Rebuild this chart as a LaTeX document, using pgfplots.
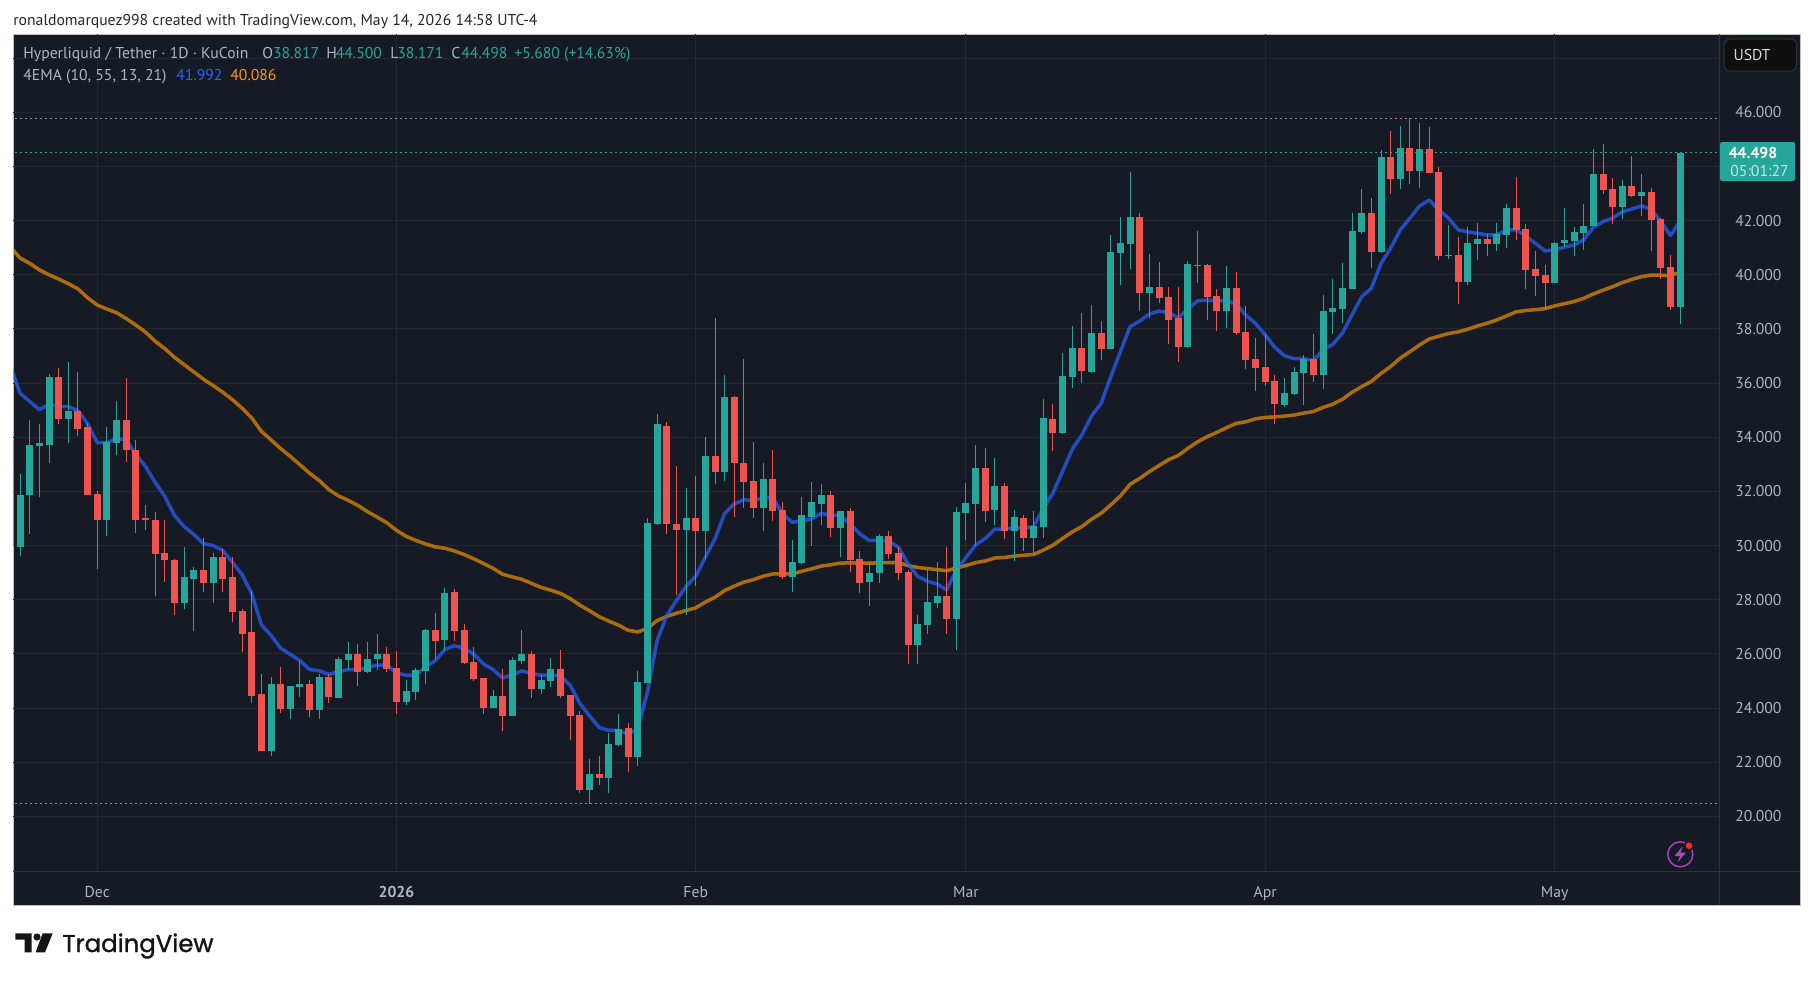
\documentclass[border=0pt]{standalone}
\usepackage{pgfplots}
\usepackage{pgfplotstable}
\usepackage{fontspec}
\pgfplotsset{compat=1.18}
\setmainfont{PT Sans}
\newfontfamily\logofont[FakeBold=1.2]{Poppins}
\definecolor{panelbg}{HTML}{161A25}
\definecolor{gridc}{HTML}{242832}
\definecolor{axisc}{HTML}{2F333E}
\definecolor{grn}{HTML}{26A69A}
\definecolor{rd}{HTML}{EF5350}
\definecolor{bl}{HTML}{2962FF}
\definecolor{org}{HTML}{FF9800}
\definecolor{lbl}{HTML}{B2B5BE}
\definecolor{purp}{HTML}{AB47BC}
\pgfplotstableread{
d o h l c
-8 29.96 32.66 29.63 31.88
-7 31.85 34.65 30.41 33.73
-6 33.69 34.50 31.81 33.77
-5 33.73 36.35 33.03 36.24
-3 34.69 36.76 33.80 34.95
1 30.96 34.39 30.37 33.84
2 33.80 35.35 33.36 34.65
9 27.86 29.96 27.64 28.82
10 28.78 29.22 26.86 29.11
12 28.60 29.74 27.86 29.56
18 22.43 25.13 22.21 24.87
20 23.98 24.83 23.58 24.83
21 24.79 25.72 24.39 24.87
23 23.94 25.24 23.61 25.16
25 24.36 25.88 24.36 25.80
26 25.77 26.43 25.40 25.99
28 25.32 26.43 25.29 25.80
29 25.80 26.73 25.40 25.99
32 24.22 25.03 24.10 24.62
33 24.58 25.47 24.29 25.40
34 25.36 26.91 24.88 26.87
36 26.50 28.42 26.10 28.24
41 23.99 24.66 23.99 24.44
43 23.70 25.88 23.70 25.77
44 25.73 26.87 25.62 25.99
46 24.70 25.25 24.51 25.03
47 24.99 25.84 24.77 25.43
51 20.97 22.11 20.45 21.56
53 21.41 23.07 20.86 22.66
54 22.63 23.77 22.59 23.22
56 22.18 25.36 21.85 24.95
57 24.92 31.00 24.92 30.85
58 30.78 34.87 30.74 34.47
61 30.59 32.14 27.42 31.00
63 30.55 33.99 29.52 33.29
65 32.70 36.31 32.40 35.50
69 31.37 33.03 30.52 32.44
72 28.82 30.22 28.30 29.41
73 29.37 31.81 29.30 31.11
74 31.07 32.33 30.00 31.59
75 31.55 32.29 30.74 31.85
77 30.66 31.26 29.56 31.26
80 28.67 29.41 27.75 29.00
81 28.97 30.44 28.63 30.37
85 26.34 27.45 25.64 27.12
86 27.08 29.08 26.75 27.90
87 27.86 29.41 27.71 28.12
89 27.28 31.42 26.14 31.24
90 31.20 32.31 30.20 31.57
91 31.53 33.71 29.98 32.86
93 31.31 33.23 30.76 32.20
95 30.54 31.31 29.43 31.05
97 30.28 31.27 29.72 30.72
98 30.68 35.41 30.28 34.71
100 34.15 37.11 34.12 36.26
101 36.22 38.10 35.82 37.29
103 36.41 38.88 36.37 37.85
105 37.26 41.46 37.26 40.84
106 40.80 42.13 39.62 41.17
107 41.13 43.79 40.21 42.13
109 39.32 40.76 38.40 39.54
113 37.33 40.51 37.29 40.39
117 38.66 40.32 38.03 39.51
123 35.19 36.19 35.12 35.64
124 35.60 36.60 35.56 36.41
125 36.38 37.04 35.19 36.89
127 36.30 39.26 35.78 38.66
128 38.63 39.85 37.81 38.78
129 38.74 40.44 38.22 39.51
130 39.48 42.28 39.48 41.62
131 41.58 43.17 41.51 42.28
133 40.84 44.61 40.80 44.35
135 43.54 45.50 43.17 44.68
137 43.83 45.61 43.21 44.65
140 40.70 41.84 40.58 40.73
142 39.73 41.77 39.62 41.18
143 41.14 41.91 40.55 41.32
145 41.14 41.91 40.88 41.51
146 41.47 42.62 40.99 42.47
151 39.70 41.21 39.70 41.18
152 41.18 42.47 41.03 41.29
153 41.25 41.77 40.70 41.58
154 41.54 42.62 40.92 41.80
155 41.80 44.65 41.80 43.72
158 42.50 43.50 42.06 43.28
160 42.91 43.72 42.17 43.06
164 38.817 44.50 38.171 44.498
}\greentable
\pgfplotstableread{
d o h l c
-9 33.88 34.30 29.60 29.98
-4 36.24 36.54 34.50 34.69
-2 34.95 36.42 34.06 34.32
-1 34.36 34.54 31.85 31.88
0 31.92 32.03 29.15 30.96
3 34.65 36.17 33.10 33.51
4 33.54 33.91 30.48 30.96
5 31.00 31.48 30.59 30.96
6 30.96 31.22 28.12 29.70
7 29.74 30.96 28.67 29.45
8 29.48 29.52 27.45 27.86
11 29.11 30.26 28.30 28.60
13 29.56 29.89 28.30 28.78
14 28.82 29.59 27.16 27.56
15 27.60 27.67 26.05 26.75
16 26.79 28.34 24.20 24.46
17 24.50 25.27 22.43 22.43
19 24.87 25.53 23.83 23.98
22 24.87 25.02 23.65 23.94
24 25.16 25.24 24.20 24.39
27 25.99 26.36 24.81 25.32
30 25.99 26.25 25.32 25.43
31 25.47 26.10 23.77 24.22
35 26.87 27.50 25.80 26.47
37 28.28 28.39 26.47 26.84
38 26.87 27.10 25.62 25.66
39 25.69 26.25 24.99 25.06
40 25.10 25.10 23.77 23.99
42 24.44 25.43 23.14 23.70
45 25.99 26.10 24.36 24.70
48 25.43 26.14 24.36 24.44
49 24.47 24.47 22.81 23.70
50 23.74 23.88 20.86 20.97
52 21.56 22.22 21.15 21.41
55 23.26 23.44 21.63 22.18
59 34.43 34.58 30.41 30.78
60 30.81 32.92 28.19 30.59
62 31.00 32.55 28.49 30.55
64 33.32 38.42 32.29 32.70
66 35.50 35.54 31.07 33.06
67 33.06 36.87 31.37 32.36
68 32.40 33.84 31.03 31.37
70 32.44 33.54 30.92 31.29
71 31.33 31.59 28.78 28.82
76 31.85 32.03 30.30 30.66
78 31.26 31.40 29.04 29.48
79 29.52 29.78 28.26 28.63
82 30.37 30.55 29.52 29.70
83 29.74 29.96 28.71 29.00
84 29.04 29.08 25.64 26.34
88 28.12 29.93 26.75 27.27
92 32.86 33.60 30.87 31.27
94 32.20 32.31 30.24 30.54
96 31.02 31.13 29.80 30.28
99 34.67 35.23 33.49 34.15
102 37.29 38.58 36.00 36.44
104 37.85 38.29 36.85 37.26
108 42.13 42.28 38.66 39.32
110 39.54 40.47 38.95 39.14
111 39.18 39.54 37.44 38.33
112 38.40 39.54 36.78 37.33
114 40.36 41.61 39.69 40.32
115 40.36 40.39 38.33 39.18
116 39.21 39.47 37.92 38.66
118 39.51 40.10 37.77 37.85
119 37.88 38.84 36.52 36.85
120 36.89 37.66 35.70 36.55
121 36.60 37.81 35.89 36.04
122 36.08 36.30 34.49 35.23
126 36.89 37.81 36.04 36.30
132 42.28 42.84 40.25 40.84
134 44.35 45.31 42.98 43.54
136 44.68 45.79 43.35 43.83
138 44.65 45.46 43.76 43.76
139 43.80 43.98 40.55 40.70
141 40.73 41.40 38.92 39.73
144 41.32 41.51 40.70 41.14
147 42.47 43.61 41.29 41.66
148 41.69 41.88 39.48 40.18
149 40.22 40.88 39.22 39.96
150 39.99 40.36 38.70 39.70
156 43.72 44.83 42.98 43.13
157 43.17 43.58 41.88 42.50
159 43.28 44.39 42.87 42.91
161 43.06 43.21 40.88 42.02
162 42.06 42.10 39.85 40.25
163 40.29 40.73 38.70 38.81
}\redtable
\pgfplotstableread{
d ema
-9 36.65
-8 35.62
-7 35.32
-6 35.02
-5 35.21
-4 35.13
-3 35.13
-2 34.98
-1 34.49
0 33.80
1 33.80
2 33.95
3 33.91
4 33.36
5 32.92
6 32.33
7 31.81
8 31.11
9 30.70
10 30.41
11 30.07
12 30.00
13 29.82
14 29.38
15 28.93
16 28.22
17 27.08
18 26.68
19 26.21
20 25.98
21 25.75
22 25.42
23 25.38
24 25.24
25 25.34
26 25.42
27 25.42
28 25.50
29 25.58
30 25.58
31 25.30
32 25.21
33 25.21
34 25.52
35 25.74
36 26.16
37 26.30
38 26.21
39 25.99
40 25.63
41 25.42
42 25.11
43 25.22
44 25.37
45 25.27
46 25.21
47 25.21
48 25.18
49 24.84
50 24.17
51 23.71
52 23.28
53 23.17
54 23.17
55 23.03
56 23.24
57 24.58
58 26.49
59 27.42
60 27.97
61 28.49
62 28.86
63 29.57
64 30.25
65 31.19
66 31.54
67 31.69
68 31.66
69 31.76
70 31.76
71 31.17
72 30.86
73 30.90
74 30.98
75 31.19
76 31.11
77 31.11
78 30.80
79 30.43
80 30.18
81 30.21
82 30.16
83 29.94
84 29.32
85 28.86
86 28.68
87 28.58
88 28.36
89 29.10
90 29.55
91 30.02
92 30.26
93 30.61
94 30.61
95 30.66
96 30.64
97 30.70
98 31.37
99 31.93
100 32.73
101 33.55
102 34.08
103 34.78
104 35.25
105 36.23
106 37.16
107 38.08
108 38.29
109 38.55
110 38.66
111 38.60
112 38.41
113 38.73
114 39.04
115 39.06
116 39.04
117 39.04
118 38.92
119 38.51
120 38.20
121 37.78
122 37.32
123 37.01
124 36.90
125 36.90
126 36.83
127 37.22
128 37.43
129 37.84
130 38.52
131 39.19
132 39.50
133 40.42
134 40.98
135 41.66
136 42.09
137 42.54
138 42.76
139 42.39
140 42.09
141 41.66
142 41.58
143 41.53
144 41.47
145 41.47
146 41.66
147 41.66
148 41.43
149 41.16
150 40.88
151 40.92
152 41.02
153 41.10
154 41.29
155 41.75
156 41.96
157 42.09
158 42.33
159 42.43
160 42.54
161 42.42
162 41.96
163 41.45
164 41.992
}\emafast
\pgfplotstableread{
d ema
-9 41.02
-8 40.62
-7 40.42
-6 40.18
-5 40.00
-4 39.84
-3 39.67
-2 39.48
-1 39.15
0 38.88
1 38.73
2 38.60
3 38.38
4 38.14
5 37.88
6 37.54
7 37.27
8 36.95
9 36.68
10 36.41
11 36.14
12 35.91
13 35.66
14 35.39
15 35.07
16 34.71
17 34.22
18 33.90
19 33.58
20 33.29
21 32.98
22 32.67
23 32.40
24 32.06
25 31.83
26 31.67
27 31.48
28 31.25
29 31.05
30 30.84
31 30.56
32 30.34
33 30.19
34 30.06
35 29.95
36 29.90
37 29.80
38 29.67
39 29.51
40 29.34
41 29.16
42 28.94
43 28.84
44 28.75
45 28.60
46 28.45
47 28.35
48 28.23
49 28.04
50 27.80
51 27.59
52 27.37
53 27.21
54 27.06
55 26.87
56 26.81
57 26.94
58 27.23
59 27.38
60 27.50
61 27.60
62 27.70
63 27.91
64 28.09
65 28.34
66 28.50
67 28.65
68 28.74
69 28.87
70 28.95
71 28.95
72 28.95
73 29.05
74 29.14
75 29.24
76 29.29
77 29.35
78 29.36
79 29.35
80 29.35
81 29.36
82 29.37
83 29.37
84 29.26
85 29.19
86 29.15
87 29.11
88 29.07
89 29.17
90 29.26
91 29.37
92 29.43
93 29.54
94 29.56
95 29.61
96 29.64
97 29.67
98 29.83
99 30.01
100 30.26
101 30.50
102 30.70
103 30.97
104 31.19
105 31.50
106 31.83
107 32.26
108 32.48
109 32.73
110 32.95
111 33.17
112 33.33
113 33.59
114 33.83
115 34.02
116 34.18
117 34.35
118 34.51
119 34.57
120 34.68
121 34.73
122 34.75
123 34.78
124 34.82
125 34.89
126 34.95
127 35.10
128 35.22
129 35.40
130 35.66
131 35.87
132 36.06
133 36.36
134 36.61
135 36.92
136 37.16
137 37.41
138 37.63
139 37.73
140 37.83
141 37.89
142 37.99
143 38.11
144 38.21
145 38.33
146 38.48
147 38.63
148 38.68
149 38.71
150 38.75
151 38.85
152 38.93
153 39.01
154 39.13
155 39.29
156 39.43
157 39.56
158 39.71
159 39.83
160 39.93
161 39.99
162 39.98
163 39.98
164 40.086
}\emaslow
\newcommand{\fs}{\fontsize{7.85}{9}\selectfont}
\begin{document}
\begin{tikzpicture}
\begin{scope}[x=0.5pt,y=-0.5pt]
\useasboundingbox (0,0) rectangle (1814,981);
\fill[white] (0,0) rectangle (1814,981);
\filldraw[fill=panelbg,draw=black!25,line width=0.5pt] (13,34) rectangle (1800.5,905);
\end{scope}
\begin{axis}[at={(6.75pt,-435.5pt)},anchor=south west,scale only axis,
  width=852.9pt,height=418.5pt,
  xmin=-8.68,xmax=168.05,ymin=17.98,ymax=48.89,
  axis line style={draw=none},
  grid=major,grid style={line width=0.5pt,draw=gridc},
  major tick length=0pt,
  xtick={0,31,62,90,121,151},
  xticklabels={Dec,\textbf{2026},Feb,Mar,Apr,May},
  xticklabel style={text=lbl,font=\fs,yshift=-4pt},
  ytick={20,22,...,48},
  yticklabels={20.000,22.000,24.000,26.000,28.000,30.000,32.000,34.000,36.000,38.000,40.000,42.000,44.000,46.000,},
  yticklabel pos=right,
  yticklabel style={text=lbl,font=\fs,anchor=west,xshift=4.5pt},
]
\addplot[lbl!75!panelbg,line width=0.5pt,dash pattern=on 0.6pt off 1.9pt] coordinates {(-9,45.78)(168.05,45.78)};
\addplot[grn,line width=0.5pt,dash pattern=on 0.6pt off 1.9pt] coordinates {(-9,44.498)(168.05,44.498)};
\addplot[lbl!75!panelbg,line width=0.5pt,dash pattern=on 0.6pt off 1.9pt] coordinates {(-9,20.47)(168.05,20.47)};
\addplot[org,opacity=0.65,line width=1.75pt,line join=round] table[x=d,y=ema] {\emaslow};
\addplot[bl,opacity=0.7,line width=1.75pt,line join=round] table[x=d,y=ema] {\emafast};
% wicks
\addplot[draw=none,mark=none,error bars/.cd,y dir=plus,y explicit,error mark=none,
  error bar style={line width=0.5pt,draw=grn,solid}]
  table[x=d,y=l,y error expr=\thisrow{h}-\thisrow{l}] {\greentable};
\addplot[draw=none,mark=none,error bars/.cd,y dir=plus,y explicit,error mark=none,
  error bar style={line width=0.5pt,draw=rd,solid}]
  table[x=d,y=l,y error expr=\thisrow{h}-\thisrow{l}] {\redtable};
% bodies
\addplot[draw=none,mark=none,error bars/.cd,y dir=plus,y explicit,error mark=none,
  error bar style={line width=3.5pt,draw=grn,solid}]
  table[x=d,y=o,y error expr=\thisrow{c}-\thisrow{o}] {\greentable};
\addplot[draw=none,mark=none,error bars/.cd,y dir=plus,y explicit,error mark=none,
  error bar style={line width=3.5pt,draw=rd,solid}]
  table[x=d,y=c,y error expr=\thisrow{o}-\thisrow{c}] {\redtable};
\end{axis}
\begin{scope}[x=0.5pt,y=-0.5pt]
% separators
\draw[axisc,line width=0.5pt] (13,871) -- (1800,871);
\draw[axisc,line width=0.5pt] (1719.3,34) -- (1719.3,905);
% USDT button
\filldraw[fill=black!94,draw=axisc,line width=0.5pt,rounded corners=3pt] (1724,39) rectangle (1796.5,71);
\node[anchor=base,text=white!85!black,font=\fs] at (1752,60) {USDT};
% price tag
\fill[grn,rounded corners=1pt] (1720,142) rectangle (1795,181);
\node[anchor=base,text=white,font=\fs\bfseries,inner ysep=0pt] at (1753,158) {44.498};
\node[anchor=base,text=white!75!grn,font=\fs,inner ysep=0pt] at (1759.5,176) {05:01:27};
% header and legend
\node[anchor=base west,inner sep=0pt,text=black!85,font=\fs] at (13,25) {ronaldomarquez998 created with TradingView.com, May 14, 2026 14:58 UTC-4};
\node[anchor=base west,inner sep=0pt,text=lbl,font=\fs] at (23,58.5) {Hyperliquid / Tether · 1D · KuCoin};
\node[anchor=base west,inner sep=0pt,text=lbl,font=\fs] at (262,58.5) {O};
\node[anchor=base west,inner sep=0pt,text=grn,font=\fs] at (272.7,58.5) {38.817};
\node[anchor=base west,inner sep=0pt,text=lbl,font=\fs] at (326,58.5) {H};
\node[anchor=base west,inner sep=0pt,text=grn,font=\fs] at (335.4,58.5) {44.500};
\node[anchor=base west,inner sep=0pt,text=lbl,font=\fs] at (390,58.5) {L};
\node[anchor=base west,inner sep=0pt,text=grn,font=\fs] at (397,58.5) {38.171};
\node[anchor=base west,inner sep=0pt,text=lbl,font=\fs] at (451,58.5) {C};
\node[anchor=base west,inner sep=0pt,text=grn,font=\fs] at (461,58.5) {44.498};
\node[anchor=base west,inner sep=0pt,text=grn,font=\fs] at (514,58.5) {+5.680 (+14.63\%)};
\node[anchor=base west,inner sep=0pt,text=lbl,font=\fs] at (23,80) {4EMA (10, 55, 13, 21)};
\node[anchor=base west,inner sep=0pt,text=bl,font=\fs] at (176,80) {41.992};
\node[anchor=base west,inner sep=0pt,text=org,font=\fs] at (230,80) {40.086};
% alert icon
\draw[purp,line width=0.7pt] (1680.3,854.3) circle (12.5);
\fill[purp] (1682.5,846.5) -- (1674.5,856) -- (1680,856) -- (1677.5,862.5) -- (1686,852.5) -- (1680.5,852.5) -- cycle;
\fill[panelbg] (1689,845.7) circle (5.2);
\fill[red!85!white] (1689,845.7) circle (3.3);
% logo
\fill[black!92] (15.3,933.3) -- (31.6,933.3) -- (31.6,952.3) -- (24.5,952.3) -- (24.5,939.5) -- (15.3,939.5) -- cycle;
\fill[black!92] (37,937) circle (3.6);
\fill[black!92] (42.7,933.3) -- (52.7,933.3) -- (45,952.3) -- (35.6,952.3) -- cycle;
\node[anchor=base west,inner sep=0pt,text=black!92,font=\logofont\fontsize{12.2}{15}\selectfont] at (62,952) {TradingView};
\end{scope}
\end{tikzpicture}
\end{document}
